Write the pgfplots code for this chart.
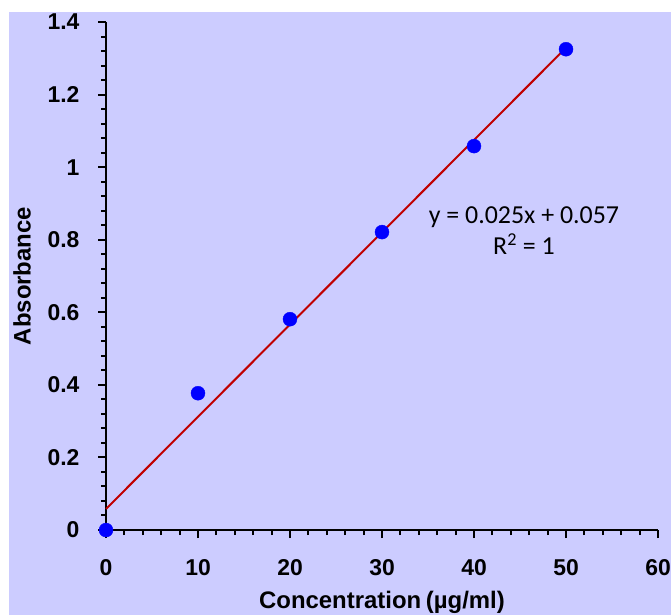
\documentclass[border=0pt]{standalone}
\usepackage{pgfplots}
\pgfplotsset{compat=1.18}
\usepackage{fontspec}
\setmainfont{Liberation Sans}
\newfontfamily\carlito{Carlito}
\definecolor{bg}{HTML}{CCCCFF}
\definecolor{trend}{HTML}{C00000}
\begin{document}
\begin{tikzpicture}[x=1bp,y=1bp]
\path[use as bounding box] (0,0) rectangle (671,-615);
\fill[white] (0,0) rectangle (671,-615);
\fill[bg] (9,-12) rectangle (671,-615);
\begin{axis}[
  at={(106bp,-530bp)}, anchor=south west,
  scale only axis, width=552bp, height=508bp,
  xmin=0, xmax=60, ymin=0, ymax=1.4,
  axis lines*=left,
  axis line style={line width=2bp, black, -},
  xtick={0,10,20,30,40,50,60},
  ytick={0,0.2,0.4,0.6,0.8,1,1.2,1.4},
  minor x tick num=4, minor y tick num=4,
  tick align=outside,
  major tick length=8bp, minor tick length=5bp,
  major tick style={black, line width=2bp},
  minor tick style={black, line width=2bp},
  /pgf/number format/assume math mode=true,
  /pgf/number format/fixed,
  ticklabel style={font=\fontsize{23}{27}\selectfont\bfseries},
  yticklabel style={xshift=-15bp},
  xticklabel style={yshift=-18bp},
  label style={font=\fontsize{24}{28}\selectfont\bfseries},
  xlabel={Concentration\hspace{0.2em}(µg/ml)},
  ylabel={Absorbance},
  xlabel style={at={(axis description cs:0.5,-0.1417)}, anchor=center},
  ylabel style={at={(axis description cs:-0.1522,0.5)}, anchor=center, rotate=0},
  clip=false,
]
\addplot[only marks, mark=*, mark size=7bp, mark options={fill=blue, draw=blue}]
  coordinates {(0,0) (10,0.377) (20,0.581) (30,0.821) (40,1.058) (50,1.325)};
\addplot[trend, line width=2bp, no markers]
  coordinates {(0,0.058) (50,1.329)};
\node[font=\carlito\fontsize{26}{31}\selectfont, anchor=base] at (axis cs:45.43,0.846) {y = 0.025x + 0.057};
\node[font=\carlito\fontsize{26}{31}\selectfont, anchor=base] at (axis cs:45.43,0.7606) {R\textsuperscript{2} = 1};
\end{axis}
\end{tikzpicture}
\end{document}
